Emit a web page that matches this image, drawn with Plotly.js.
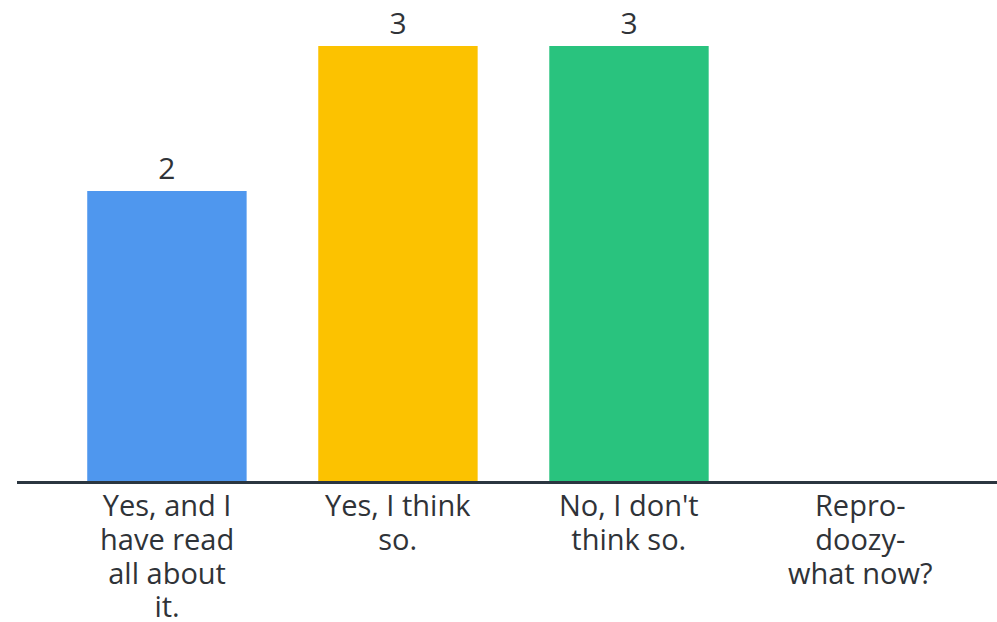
<!DOCTYPE html>
<html><head><meta charset="utf-8">
<script src="https://cdn.plot.ly/plotly-3.0.1.min.js"></script>
<style>html,body{margin:0;padding:0;background:#fff}</style>
</head><body>
<div id="chart" style="width:997px;height:622px"></div>
<script>
const categories = ["Yes, and I have read all about it.", "Yes, I think so.", "No, I don't think so.", "Repro-doozy-what now?"];
const tickLabels = ["Yes, and I<br>have read<br>all about<br>it.", "Yes, I think<br>so.", "No, I don't<br>think so.", "Repro-<br>doozy-<br>what now?"];
const counts = [2, 3, 3, 0];
const barColors = ["#4f97ee", "#fcc200", "#29c37e", "#8e44ad"];

const FONT = "'Open Sans', sans-serif";
const TEXT_COLOR = "#2f3338";

const trace = {
  type: "bar",
  x: categories,
  y: counts,
  marker: {color: barColors},
  text: counts.map(v => v > 0 ? String(v) : ""),
  textposition: "outside",
  cliponaxis: false,
  textfont: {family: FONT, size: 30, color: TEXT_COLOR},
  hoverinfo: "none"
};

// Category labels: base size 26 sets the tight line spacing, inner span sets glyph size
const annotations = categories.map((c, ci) => ({
  x: c, y: 0, xref: "x", yref: "y",
  xanchor: "center", yanchor: "top",
  yshift: -2,
  text: tickLabels[ci].split("<br>").map(l => '<span style="font-size:29px">' + l + '</span>').join("<br>"),
  showarrow: false,
  font: {family: FONT, size: 26, color: TEXT_COLOR}
}));

const layout = {
  width: 997, height: 622,
  margin: {l: 17, r: 0, t: 46, b: 141},
  paper_bgcolor: "#ffffff", plot_bgcolor: "#ffffff",
  showlegend: false,
  bargap: 0.31,
  xaxis: {
    type: "category",
    range: [-0.649, 3.593],
    showticklabels: false,
    showline: true, linecolor: "#2b3640", linewidth: 3,
    showgrid: false, zeroline: false, ticks: ""
  },
  yaxis: {range: [0, 3], visible: false, showgrid: false, zeroline: false},
  annotations: annotations,
  font: {family: FONT, color: TEXT_COLOR}
};
Plotly.newPlot("chart", [trace], layout, {displayModeBar: false, staticPlot: true});
</script>
</body></html>
